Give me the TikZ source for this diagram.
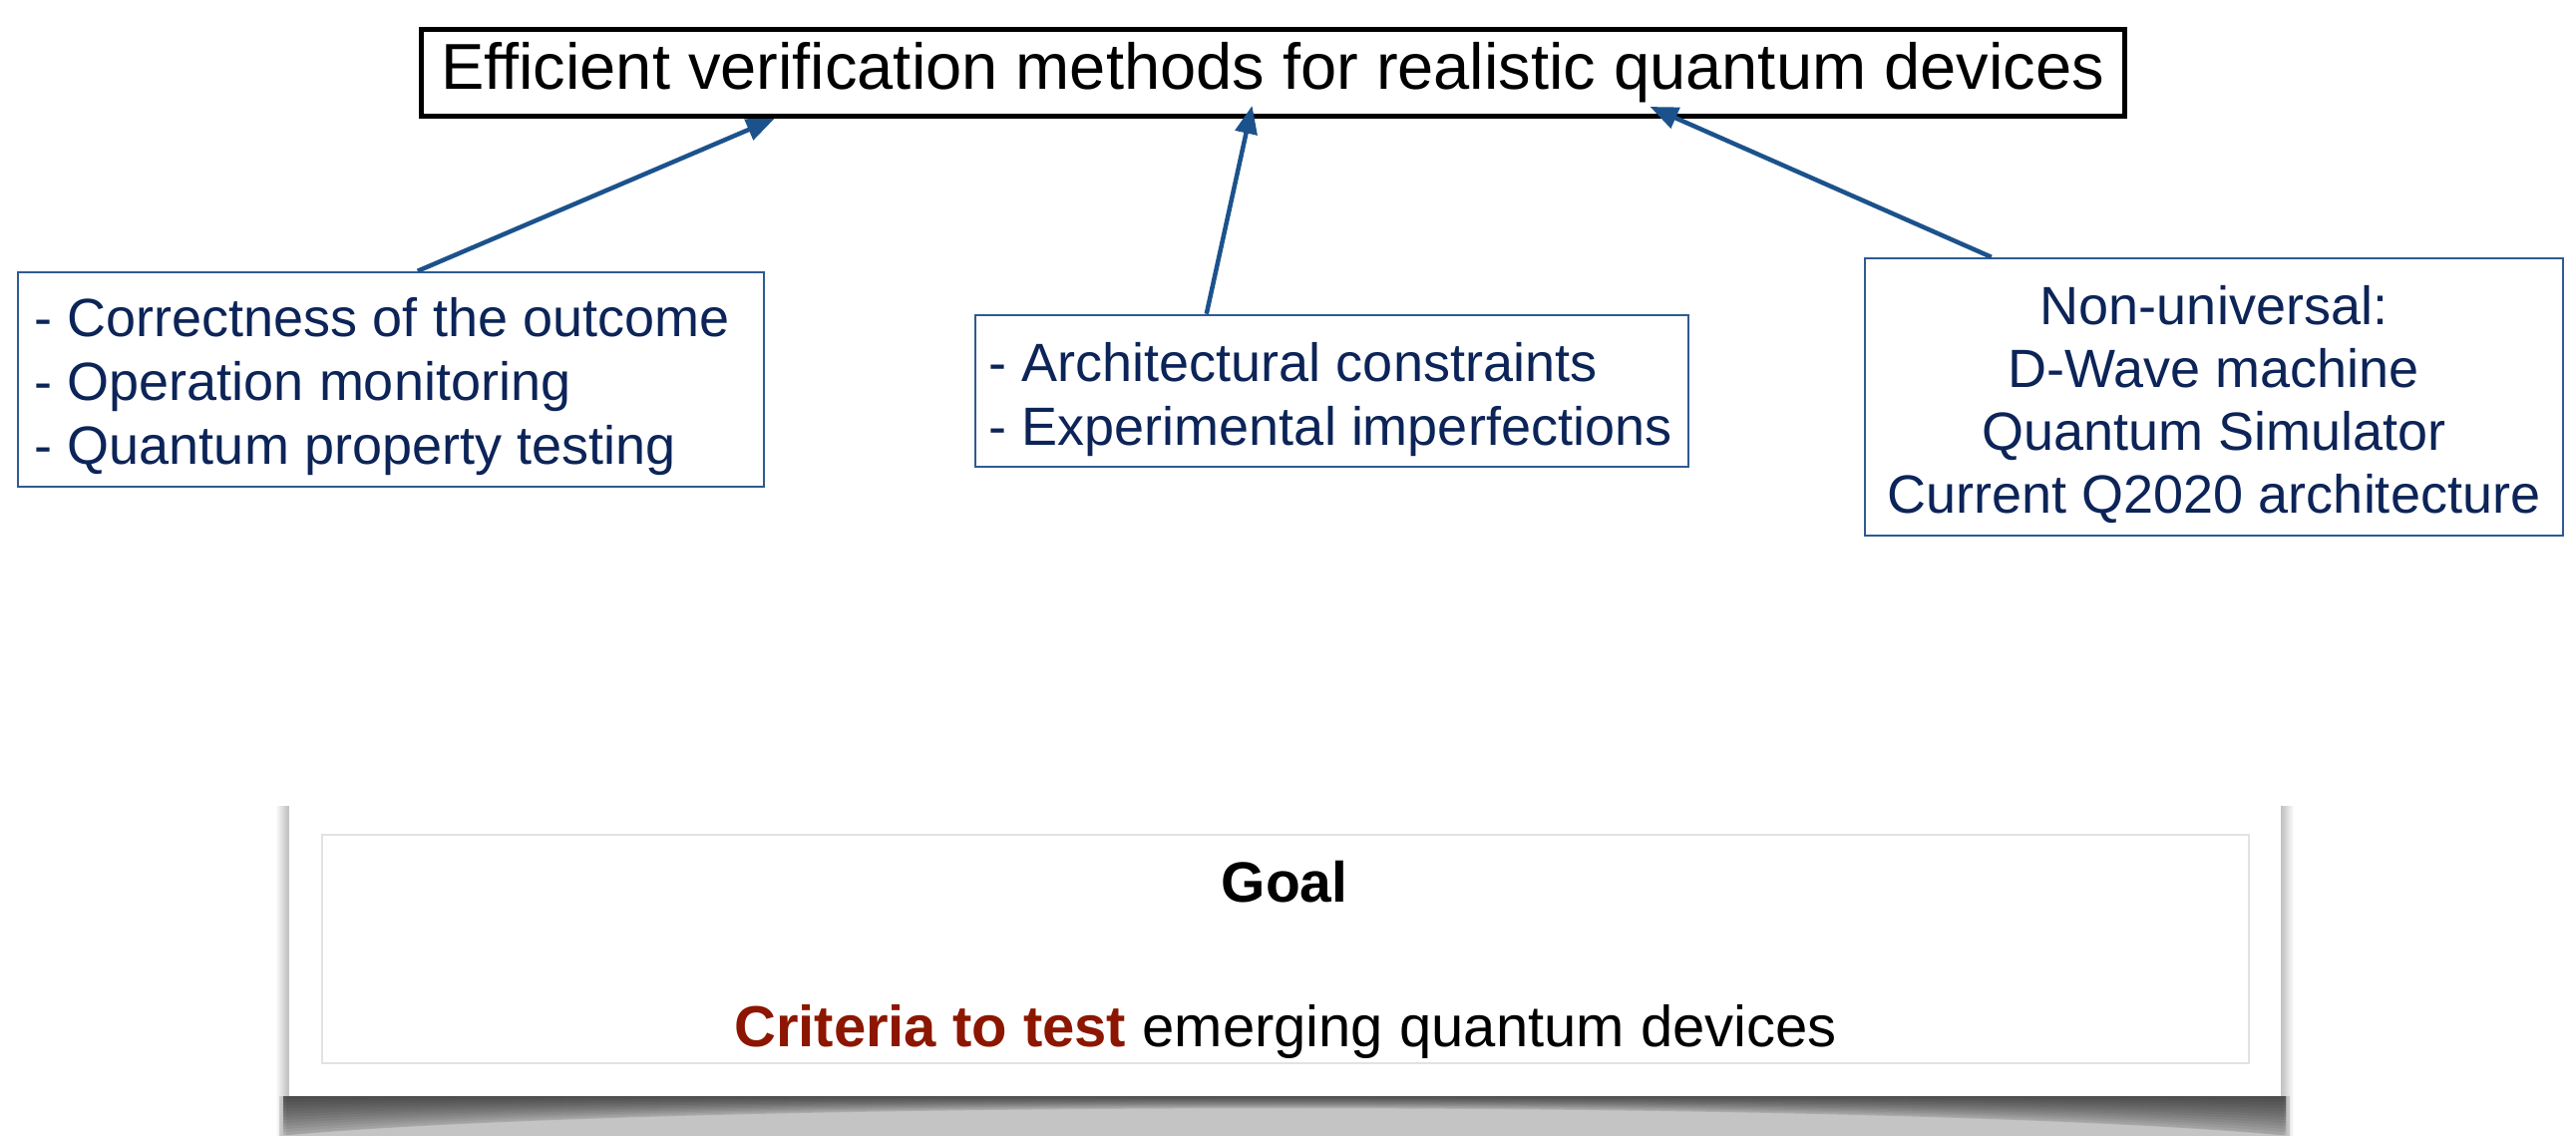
\documentclass[tikz,border=0pt]{standalone}
\usepackage{fontspec}
\setmainfont{Liberation Sans}
\usetikzlibrary{arrows.meta,calc}
\definecolor{navy}{RGB}{12,36,88}
\definecolor{boxblue}{RGB}{45,92,145}
\definecolor{arrowblue}{RGB}{28,82,140}
\definecolor{critred}{RGB}{140,22,0}
\definecolor{framegrey}{RGB}{226,226,226}

\begin{document}
\begin{tikzpicture}[x=1pt,y=-1pt,
  titlebox/.style={draw=black,line width=5pt,minimum width=1708pt,minimum height=87pt,
    inner sep=0pt,font=\fontsize{65}{70}\selectfont},
  infobox/.style={draw=boxblue,line width=2.5pt,inner sep=0pt},
  infotext/.style={text=navy,inner sep=0pt,font=\fontsize{54}{64}\selectfont},
  link/.style={draw=arrowblue,line width=4.5pt,-{Triangle[length=28pt,width=22pt]}},
]
\useasboundingbox (0,0) rectangle (2583,1139);
\fill[white] (0,0) rectangle (2583,1139);

% headline
\node[titlebox] (top) at (1276,73) {Efficient verification methods for realistic quantum devices};

% the three aspects: frames
\node[infobox,minimum width=748pt,minimum height=215pt] (crit) at (392,380.5) {};
\node[infobox,minimum width=715pt,minimum height=152pt] (mid) at (1335.5,392) {};
\node[infobox,minimum width=700pt,minimum height=278pt] (plat) at (2220,398) {};

% the three aspects: texts
\node[infotext,align=left,anchor=west] (critText) at ($(crit.west)+(18,7)$)
  {- Correctness of the outcome\\- Operation monitoring\\- Quantum property testing};
\node[infotext,align=left,anchor=west] (midText) at ($(mid.west)+(15,8.5)$)
  {- Architectural constraints\\- Experimental imperfections};
\node[infotext,align=center,font=\fontsize{54}{63}\selectfont] (platText) at ($(plat.center)+(0,8)$)
  {Non-universal:\\D-Wave machine\\Quantum Simulator\\Current Q2020 architecture};

% connectors
\draw[link] ($(crit.north west)+(402,0)$) -- ($(top.south west)+(357,0)$);
\draw[link] ($(mid.north west)+(233,0)$) -- ($(top.south west)+(836,-13)$);
\draw[link] ($(plat.north west)+(128,0)$) -- ($(top.south west)+(1235,-12)$);

% card shadow: soft sides and curled bottom
\foreach \i in {1,...,12}
  \fill[black,opacity=0.018] (289-\i,808) rectangle (2288+\i,1139);
\fill[black,opacity=0.12] (280,1099) -- (2296,1099) -- (2296,1139)
    .. controls (1900,1102) and (680,1102) .. (280,1139) -- cycle;
\foreach \d in {3,6,...,39}
  \fill[black,opacity=0.055] (284,1099) -- (2292,1099) -- (2292,1099+\d)
    .. controls (1900,1099+0.05*\d) and (680,1099+0.05*\d) .. (284,1099+\d) -- cycle;

% goal card
\node[fill=white,minimum width=1997pt,minimum height=296pt,inner sep=0pt] (card) at (1288.5,951) {};
\node[draw=framegrey,line width=2pt,minimum width=1932pt,minimum height=229pt,inner sep=0pt]
  (frame) at (1289,951.5) {};
\node[font=\bfseries\fontsize{57}{60}\selectfont] (goal) at (1288,884) {Goal};
\node[font=\fontsize{58}{60}\selectfont] (aim) at (1289,1034)
  {\textcolor{critred}{\bfseries Criteria to test} emerging quantum devices};
\end{tikzpicture}
\end{document}
